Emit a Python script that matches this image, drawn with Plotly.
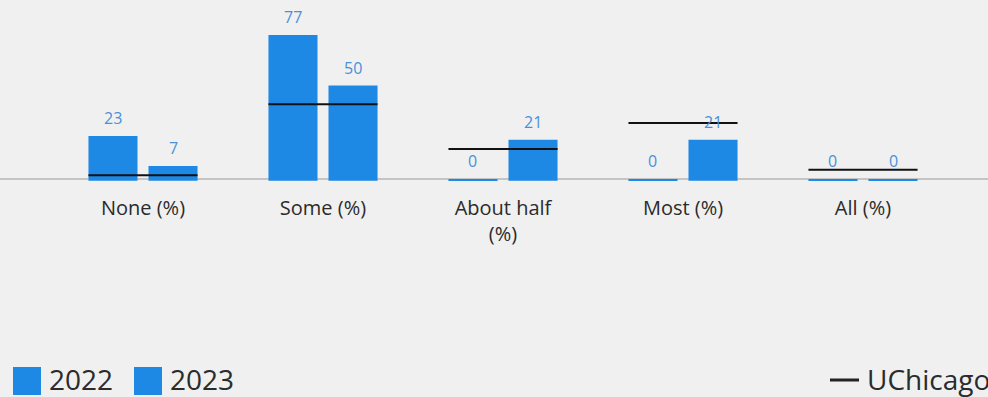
import plotly.graph_objects as go

# ---- data ----
categories = ["None (%)", "Some (%)", "About half<br>(%)", "Most (%)", "All (%)"]
series_names = ["2022", "2023"]
values_2022 = [23, 77, 0, 0, 0]
values_2023 = [7, 50, 21, 21, 0]
uchicago = [2, 40, 16, 30, 5]
benchmark_name = "UChicago"

# ---- style ----
BAR_COLOR = "#1e88e5"
LABEL_COLOR = "#4a90d9"
BG = "#f0f0f0"
TEXT_COLOR = "#2b2b2b"
FONT = "Open Sans"
FLOOR = 1.0          # bars begin just under the baseline so zero bars stay visible
BARGAP = 0.333
BARGROUPGAP = 0.183
W, H = 988, 397
PLOT_BOTTOM = 183    # px from top
Y_RANGE = [-2.14, 95.72]

x_idx = list(range(len(categories)))
n_series = len(series_names)
slot = (1 - BARGAP) / n_series
offsets = [-(1 - BARGAP) / 2 + slot * (k + 0.5) for k in range(n_series)]
half_group = (1 - BARGAP) / 2 - slot * BARGROUPGAP / 2

fig = go.Figure()
all_vals = [values_2022, values_2023]
for name, vals in zip(series_names, all_vals):
    fig.add_trace(go.Bar(
        x=x_idx, y=[v + FLOOR for v in vals], base=-FLOOR, name=name,
        marker=dict(color=BAR_COLOR, line=dict(width=0)),
        showlegend=False, hoverinfo="skip",
    ))

# benchmark segments across each group
lx, ly = [], []
for i, u in zip(x_idx, uchicago):
    lx += [i - half_group, i + half_group, None]
    ly += [u, u, None]
fig.add_trace(go.Scatter(x=lx, y=ly, mode="lines", name=benchmark_name,
                         line=dict(color="#111111", width=2),
                         showlegend=False, hoverinfo="skip"))

annotations = []
for k, vals in enumerate(all_vals):
    for i, v in zip(x_idx, vals):
        annotations.append(dict(
            x=i + offsets[k], y=v, xref="x", yref="y", text=str(v),
            showarrow=False, yanchor="middle", yshift=18,
            font=dict(family=FONT, size=16, color=LABEL_COLOR)))

# custom legend (large swatches)
def px(xp):
    return xp / W

def py(yp):
    return (PLOT_BOTTOM - yp) / PLOT_BOTTOM

shapes = []
sw_x = [13, 134]
txt_x = [48, 169]
for k, name in enumerate(series_names):
    shapes.append(dict(type="rect", xref="paper", yref="paper",
                       x0=px(sw_x[k]), x1=px(sw_x[k] + 28), y0=py(367), y1=py(395),
                       fillcolor=BAR_COLOR, line=dict(width=0)))
    annotations.append(dict(x=px(txt_x[k]), y=py(379), xref="paper", yref="paper",
                            text=name, showarrow=False, xanchor="left", yanchor="middle",
                            borderpad=0,
                            font=dict(family=FONT, size=28, color=TEXT_COLOR)))
shapes.append(dict(type="line", xref="paper", yref="paper",
                   x0=px(830), x1=px(859), y0=py(380), y1=py(380),
                   line=dict(color="#222222", width=3)))
annotations.append(dict(x=px(866), y=py(379), xref="paper", yref="paper",
                        text=benchmark_name, showarrow=False, xanchor="left", yanchor="middle",
                        borderpad=0,
                        font=dict(family=FONT, size=28, color=TEXT_COLOR)))

x0 = -143 / 180
fig.update_layout(
    width=W, height=H,
    margin=dict(l=0, r=0, t=0, b=H - PLOT_BOTTOM, pad=0),
    paper_bgcolor=BG, plot_bgcolor=BG,
    barmode="group", bargap=BARGAP, bargroupgap=BARGROUPGAP,
    font=dict(family=FONT, color=TEXT_COLOR),
    showlegend=False,
    annotations=annotations, shapes=shapes,
    xaxis=dict(range=[x0, x0 + W / 180], tickmode="array", tickvals=x_idx,
               ticktext=categories, showgrid=False, zeroline=False, showline=False,
               ticks="", ticklabelstandoff=11,
               tickfont=dict(family=FONT, size=20, color=TEXT_COLOR)),
    yaxis=dict(range=Y_RANGE, showgrid=False, showticklabels=False, ticks="",
               zeroline=True, zerolinecolor="#c4c4c4", zerolinewidth=1.5, showline=False),
)

fig.write_html("out.html")
